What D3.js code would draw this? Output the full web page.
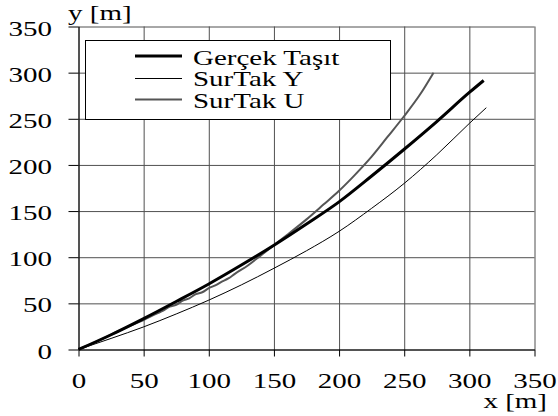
<!DOCTYPE html>
<html>
<head>
<meta charset="utf-8">
<script src="https://cdn.jsdelivr.net/npm/d3@7"></script>
<style>
  html, body { margin: 0; padding: 0; background: #fff; }
  svg { display: block; }
  text { font-family: "Liberation Serif", "Times New Roman", serif; fill: #000; }
</style>
</head>
<body>
<svg id="chart" width="558" height="416"></svg>
<script>
// ---- data ----
const xTicks = [0, 50, 100, 150, 200, 250, 300, 350];
const yTicks = [0, 50, 100, 150, 200, 250, 300, 350];

const gercekX = [0, 25, 50, 75, 100, 125, 150, 175, 200, 225, 250, 275, 300, 311];
const gercekY = [0, 16, 33.5, 52, 71, 91.5, 113, 136, 160, 188, 217, 247, 278.5, 291.5];

const surtakYX = [0, 25, 50, 75, 100, 125, 150, 175, 200, 225, 250, 275, 300, 313];
const surtakYY = [0, 12, 24.5, 38.5, 53.5, 70, 88, 107, 128, 153, 180, 211, 245, 262];

const surtakUX = [0, 10, 20, 30, 40, 50, 60, 65, 70, 75, 80, 85, 90, 95, 100, 105, 110, 115, 120, 130, 140, 150, 160, 175, 188, 200, 212, 225, 237, 250, 262, 272.5];
const surtakUY = [0, 6, 12.5, 19.5, 26, 32, 39, 42, 46.5, 48.5, 53, 55.5, 60, 62, 66.5, 69.5, 73.5, 77, 82, 91, 102, 113, 124, 141, 157, 172, 189, 209, 230, 253, 276, 300];

const seriesNames = ["Gerçek Taşıt", "SurTak Y", "SurTak U"];

// ---- layout ----
const SX = 1.45;           // horizontal text stretch of the original
const FS = 20;
const svg = d3.select("#chart");
const x = d3.scaleLinear().domain([0, 350]).range([78.5, 534.5]);
const y = d3.scaleLinear().domain([0, 350]).range([349.5, 26.5]);

// grid
svg.append("g")
  .attr("transform", `translate(0,${y(0)})`)
  .call(d3.axisBottom(x).tickValues(xTicks).tickSize(-(y(0) - y(350))).tickFormat(""))
  .call(g => g.select(".domain").remove())
  .call(g => g.selectAll("line").attr("stroke", "#505050").attr("stroke-width", 1));
svg.append("g")
  .attr("transform", `translate(${x(0)},0)`)
  .call(d3.axisLeft(y).tickValues(yTicks).tickSize(-(x(350) - x(0))).tickFormat(""))
  .call(g => g.select(".domain").remove())
  .call(g => g.selectAll("line").attr("stroke", "#505050").attr("stroke-width", 1));

// axes
const xAxis = svg.append("g")
  .attr("transform", `translate(0,${y(0)})`)
  .call(d3.axisBottom(x).tickValues(xTicks).tickSize(7).tickSizeOuter(0).tickPadding(0));
xAxis.select(".domain").attr("stroke", "#000");
xAxis.selectAll("line").attr("stroke", "#000");
xAxis.selectAll("text")
  .attr("font-size", FS)
  .attr("y", 39).attr("dy", "0")
  .attr("transform", `scale(${SX},1)`);

const yAxis = svg.append("g")
  .attr("transform", `translate(${x(0)},0)`)
  .call(d3.axisLeft(y).tickValues(yTicks).tickSize(10).tickSizeOuter(0));
yAxis.select(".domain").attr("stroke", "#000");
yAxis.selectAll("line").attr("stroke", "#000");
yAxis.selectAll("text")
  .attr("font-size", FS)
  .attr("x", -26.5 / SX).attr("dy", "0.43em")
  .attr("transform", `scale(${SX},1)`);

// axis titles
svg.append("text").attr("font-size", FS)
  .attr("transform", `translate(68,20) scale(${SX},1)`).text("y [m]");
svg.append("text").attr("font-size", FS).attr("text-anchor", "end")
  .attr("transform", `translate(547,408) scale(${SX},1)`).text("x [m]");

// lines
const line = d3.line().x(d => x(d[0])).y(d => y(d[1])).curve(d3.curveMonotoneX);
const zip = (a, b) => a.map((v, i) => [v, b[i]]);

const styles = [
  { stroke: "#000", width: 3 },
  { stroke: "#000", width: 1 },
  { stroke: "#555", width: 2 }
];

svg.append("path").datum(zip(surtakYX, surtakYY))
  .attr("d", line).attr("fill", "none")
  .attr("stroke", styles[1].stroke).attr("stroke-width", styles[1].width);
svg.append("path").datum(zip(surtakUX, surtakUY))
  .attr("d", line).attr("fill", "none")
  .attr("stroke", styles[2].stroke).attr("stroke-width", styles[2].width);
svg.append("path").datum(zip(gercekX, gercekY))
  .attr("d", line).attr("fill", "none")
  .attr("stroke", styles[0].stroke).attr("stroke-width", styles[0].width);

// legend
const lg = svg.append("g");
lg.append("rect").attr("x", 85.5).attr("y", 40.5).attr("width", 305).attr("height", 79)
  .attr("fill", "#fff").attr("stroke", "#000").attr("stroke-width", 1);
const rowBase = [64.5, 86, 107.5];
const rowLine = [56, 78.5, 99.5];
seriesNames.forEach((name, i) => {
  lg.append("line").attr("x1", 135).attr("x2", 182)
    .attr("y1", rowLine[i]).attr("y2", rowLine[i])
    .attr("stroke", styles[i].stroke).attr("stroke-width", styles[i].width);
  lg.append("text").attr("font-size", FS)
    .attr("transform", `translate(193,${rowBase[i]}) scale(${SX},1)`).text(name);
});
</script>
</body>
</html>
